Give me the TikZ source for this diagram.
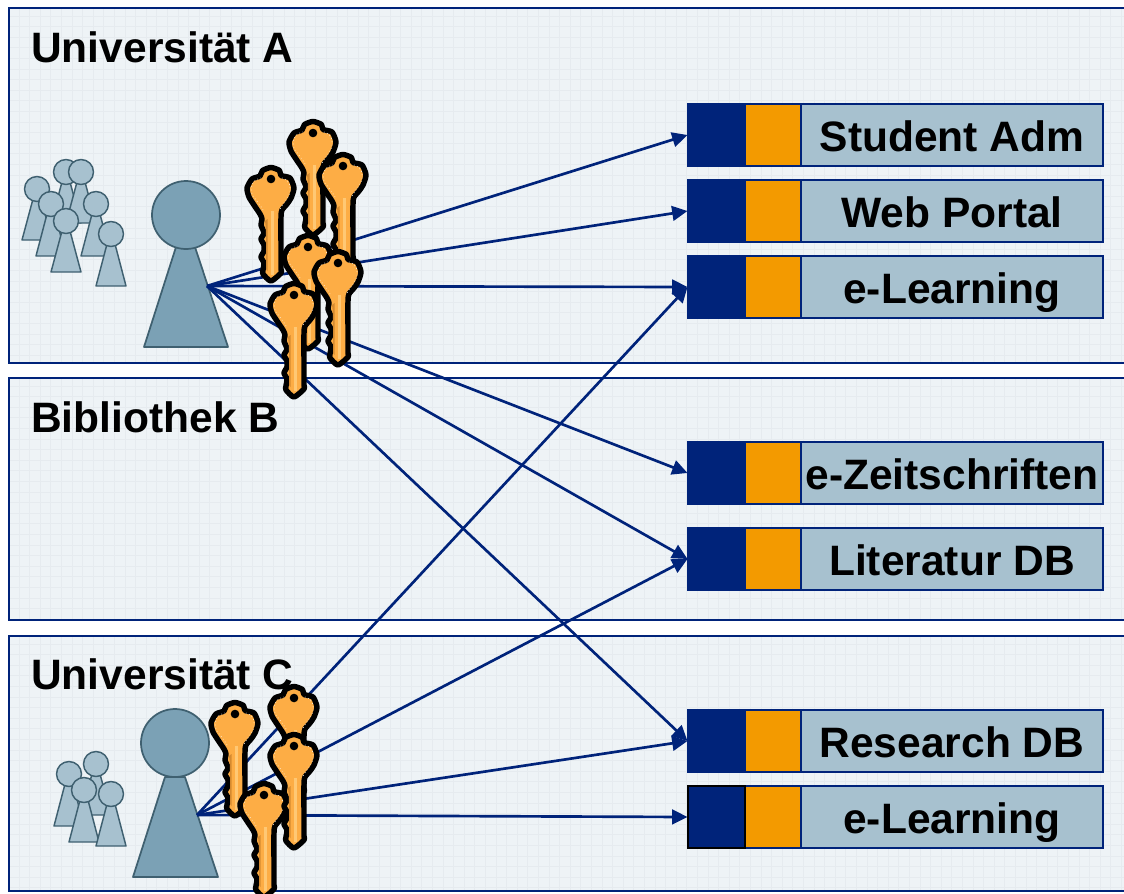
\documentclass[tikz,border=0pt]{standalone}
\usepackage{fontspec}
\setmainfont{Liberation Sans}
\usetikzlibrary{arrows.meta}
\definecolor{navy}{HTML}{00237A}
\definecolor{panelbg}{HTML}{EEF3F6}
\definecolor{gridc}{HTML}{E6EBEF}
\definecolor{orangeb}{HTML}{F39A00}
\definecolor{lightb}{HTML}{A7C1CF}
\definecolor{bigb}{HTML}{7BA1B5}
\definecolor{personline}{HTML}{3F6070}
\definecolor{keyfill}{HTML}{FDAD45}
\definecolor{keydark}{HTML}{D58A30}
\definecolor{keylight}{HTML}{FFC874}
\newcommand{\keyoutline}{plot[smooth cycle,tension=.4] coordinates {(0,-11.5)(8.5,-8.5)(10,-3.5)(19,-1)(23,9)(20,19)(16,25)(11,31)(10,38)(10,70)(10,90)(10,94)(0,102)(-8,95)(-8,91)(-7,84)(-10,78)(-7,72)(-7,66)(-10,60)(-7,54)(-10,46)(-9,40)(-11,35)(-17,26)(-22,18)(-24,9)(-19,0)(-11,-3)(-8.5,-8.5)}}
\tikzset{
  x=0.75pt,y=-0.75pt,
  gridline/.style={draw=gridc,line width=0.5pt},
  title/.style={font=\fontsize{31.9pt}{34pt}\selectfont\bfseries,anchor=base west,inner sep=0pt,text=black},
  bluepart/.style={draw=navy,fill=navy,line width=1.5pt,minimum width=43pt,minimum height=46.5pt,inner sep=0pt,outer sep=0pt,anchor=north west},
  orangepart/.style={draw=navy,fill=orangeb,line width=1.5pt,minimum width=42pt,minimum height=46.5pt,inner sep=0pt,outer sep=0pt,anchor=north west},
  labelpart/.style={draw=navy,fill=lightb,line width=1.5pt,minimum width=226.5pt,minimum height=46.5pt,inner sep=0pt,outer sep=0pt,anchor=north west,text height=28.2pt,text depth=3.5pt,font=\fontsize{31.9pt}{34pt}\selectfont\bfseries},
  link/.style={draw=navy,line width=2pt,-{Triangle[length=11.5pt,width=11pt]}},
  smallp/.style={draw=personline,fill=lightb,line width=1.1pt,line join=round},
  bigp/.style={draw=personline,fill=bigb,line width=1.3pt,line join=round},
  brasskey/.pic={
    \draw[line width=4.1pt,line join=round,fill=keyfill] \keyoutline;
    \fill[keydark] (-6,42) .. controls (-4.5,50) and (-5,70) .. (-5,90) -- (-3.5,92) .. controls (-3.5,70) and (-3,50) .. (-3.5,40) -- cycle;
    \fill[keylight] (0,32) rectangle (3,96);
    \draw[white,line width=.5pt,dotted,opacity=.9] (-10,-1) .. controls (-19,0) and (-22,10) .. (-18,17) .. controls (-13,24) and (-9,28) .. (-7,33);
    \draw[white,line width=.5pt,dotted,opacity=.9] (11,-1) .. controls (19,1) and (21,9) .. (18,16) .. controls (15,22) and (11,26) .. (8,32);
    \fill[black] (0,0) circle (4.3);
  }
}
\newcommand{\service}[3]{%
  \node[labelpart] (#1t) at (801,#2) {#3};
  \node[orangepart] (#1o) at (745,#2) {};
  \node[bluepart] (#1) at (687.5,#2) {};
}
\newcommand{\tinyperson}[3]{%
  \draw[smallp] (#1-15,#3) -- (#1-4,#2+10) -- (#1+4,#2+10) -- (#1+15,#3) -- cycle;
  \draw[smallp] (#1,#2) circle (12.5);
}
\begin{document}
\begin{tikzpicture}
\clip (0,0) rectangle (1124,893);
\fill[white] (0,0) rectangle (1124,893);
% panels
\foreach \ya/\yb/\nm in {8/363/A,378/620/B,636/891/C}{
  \fill[panelbg] (9,\ya) rectangle (1130,\yb);
  \begin{scope}
    \clip (9,\ya) rectangle (1130,\yb);
    \foreach \gx in {0,...,106}{\draw[gridline] (19+10.6*\gx,\ya) -- (19+10.6*\gx,\yb);}
    \foreach \gy in {0,...,34}{\draw[gridline] (9,\ya+8+10.6*\gy) -- (1130,\ya+8+10.6*\gy);}
  \end{scope}
  \draw[navy,line width=1.8pt] (9,\ya) rectangle (1135,\yb);
}
\node[title] (ta) at (31,62) {Universität A};
\node[title] (tb) at (31,432) {Bibliothek B};
\node[title] (tc) at (31,689) {Universität C};
% crowds
\tinyperson{66}{172}{223}
\tinyperson{81}{172}{223}
\tinyperson{37}{189}{240}
\tinyperson{51}{204}{256}
\tinyperson{96}{204}{256}
\tinyperson{66}{221}{272}
\tinyperson{111}{234}{286}
\tinyperson{96}{764}{815}
\tinyperson{69}{774}{826}
\tinyperson{84}{790}{842}
\tinyperson{111}{794}{846}
% main people
\draw[bigp] (144,347) -- (176,247) -- (195,247) -- (228,347) -- cycle;
\draw[bigp] (186,215) circle (34);
\draw[bigp] (133,877) -- (165,777) -- (185,777) -- (218,877) -- cycle;
\draw[bigp] (175,743) circle (34);
\coordinate (pa) at (207,286);
\coordinate (pc) at (197,815);
% services
\service{s1}{104}{Student Adm}
\service{s2}{180}{Web Portal}
\service{s3}{256}{e-Learning}
\service{s4}{442}{e-Zeitschriften}
\service{s5}{528}{Literatur DB}
\service{s6}{710}{Research DB}
\service{s7}{786}{e-Learning}
\draw[black,line width=1.5pt] (s7.north west) rectangle (s7.south east);
% links
\foreach \t in {s1,s2,s3,s4,s5,s6}{\draw[link] (pa) -- (\t.west);}
\foreach \t in {s3,s5,s6,s7}{\draw[link] (pc) -- (\t.west);}
% keys
\pic (k1) at (271,179) {brasskey};
\pic (k2) at (313,133) {brasskey};
\pic (k3) at (343,166) {brasskey};
\pic (k4) at (308,247) {brasskey};
\pic (k5) at (338,263) {brasskey};
\pic (k6) at (294,295) {brasskey};
\pic (c1) at (235,714) {brasskey};
\pic (c2) at (294,698) {brasskey};
\pic (c4) at (264,795) {brasskey};
\pic (c3) at (294,746) {brasskey};
\end{tikzpicture}
\end{document}
